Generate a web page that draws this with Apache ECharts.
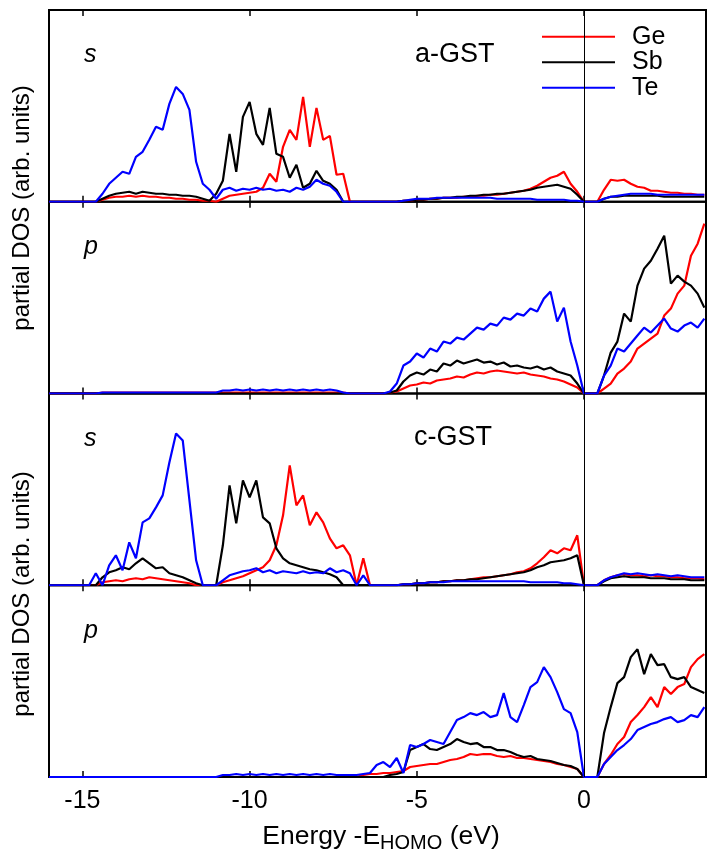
<!DOCTYPE html>
<html>
<head>
<meta charset="utf-8">
<script src="https://cdn.jsdelivr.net/npm/echarts@6/dist/echarts.min.js"></script>
<style>
  html, body { margin: 0; padding: 0; background: #fff; }
  #main { width: 709px; height: 856px; }
</style>
</head>
<body>
<div id="main"></div>
<script>
// energy grid (eV, relative to E_HOMO)
var energy = [
  -16.0, -15.8, -15.6, -15.4, -15.2, -15.0, -14.8, -14.6, -14.4, -14.2,
  -14.0, -13.8, -13.6, -13.4, -13.2, -13.0, -12.8, -12.6, -12.4, -12.2,
  -12.0, -11.8, -11.6, -11.4, -11.2, -11.0, -10.8, -10.6, -10.4, -10.2,
  -10.0, -9.8, -9.6, -9.4, -9.2, -9.0, -8.8, -8.6, -8.4, -8.2,
  -8.0, -7.8, -7.6, -7.4, -7.2, -7.0, -6.8, -6.6, -6.4, -6.2,
  -6.0, -5.8, -5.6, -5.4, -5.2, -5.0, -4.8, -4.6, -4.4, -4.2,
  -4.0, -3.8, -3.6, -3.4, -3.2, -3.0, -2.8, -2.6, -2.4, -2.2,
  -2.0, -1.8, -1.6, -1.4, -1.2, -1.0, -0.8, -0.6, -0.4, -0.2,
  0.0, 0.2, 0.4, 0.6, 0.8, 1.0, 1.2, 1.4, 1.6, 1.8,
  2.0, 2.2, 2.4, 2.6, 2.8, 3.0, 3.2, 3.4, 3.6
];
var xTicks = [-15, -10, -5, 0];

// a-GST, s states
var geSA = [0,0,0,0,0, 0,0,0,2,4, 5,5,6,5,6, 5,5,4,4,3, 3,2,2,1,1, 0,3,6,7,8,
  9,10,14,28,20, 55,72,62,105,55, 94,62,66,27,28, 0,0,0,0,0, 0,0,0,1,1, 2,2,3,3,4,
  4,4,5,5,6, 6,7,7,8,9, 10,11,13,16,20, 24,26,30,18,10, 0,0,0,12,22, 21,22,18,15,14,
  11,11,10,9,9, 8,8,7,7];
var sbSA = [0,0,0,0,0, 0,0,0,3,6, 8,9,10,8,10, 9,8,8,7,7, 6,6,5,3,1, 8,21,68,30,85,
  100,68,57,94,48, 45,24,37,14,18, 31,21,18,12,0, 0,0,0,0,0, 0,0,0,1,1, 2,2,3,3,4,
  4,5,5,6,6, 7,7,8,8,9, 10,11,12,14,15, 16,17,15,13,7, 0,0,0,3,5, 5,6,6,6,6,
  6,6,5,5,5, 5,5,5,5];
var teSA = [0,0,0,0,0, 0,0,0,8,18, 24,30,28,45,50, 62,75,72,98,115, 108,92,40,18,12, 3,12,14,11,13,
  12,14,12,13,11, 12,10,14,12,15, 22,18,16,10,0, 0,0,0,0,0, 0,0,0,1,2, 3,3,3,4,4,
  4,4,4,4,4, 4,4,3,3,3, 3,3,3,2,2, 2,2,2,1,1, 0,0,0,3,5, 6,7,8,8,8,
  8,7,7,7,7, 7,7,7,7];

// a-GST, p states
var gePA = [0,0,0,0,0, 0,0,0,1,1, 1,1,1,1,1, 1,1,1,1,1, 1,1,1,1,1, 1,1,1,1,1,
  1,1,1,1,1, 1,1,1,1,1, 1,1,1,1,1, 0,0,0,0,0, 0,1,2,5,8, 9,11,10,13,14,
  15,17,16,19,21, 20,22,23,22,21, 20,21,19,18,17, 15,14,12,9,6, 0,0,0,5,10, 20,25,32,45,50,
  55,60,78,85,100, 108,138,150,170];
var sbPA = [0,0,0,0,0, 0,0,0,0,0, 0,0,0,0,0, 0,0,0,0,0, 0,0,0,0,0, 0,0,0,0,0,
  0,0,0,0,0, 0,0,0,0,0, 0,0,0,0,0, 0,0,0,0,0, 0,1,3,12,18, 21,19,24,22,30,
  28,33,30,32,34, 31,32,29,31,27, 28,26,25,27,24, 26,22,20,18,10, 0,0,0,18,41, 52,80,72,108,125,
  133,145,158,110,118, 112,108,100,86];
var tePA = [0,0,0,0,0, 0,0,0,1,1, 1,1,1,1,1, 1,1,1,1,1, 1,1,1,1,1, 1,3,3,4,3,
  4,3,4,3,4, 3,4,3,4,3, 4,3,4,3,1, 0,0,0,0,0, 0,2,10,28,32, 40,36,45,42,52,
  50,56,54,60,66, 64,70,68,76,74, 80,78,85,82,95, 102,72,86,52,28, 0,0,0,18,28, 45,42,50,58,66,
  61,68,75,65,62, 68,71,66,75];

// c-GST, s states
var geSC = [0,0,0,0,0, 0,0,0,3,4, 5,4,6,7,6, 8,7,6,5,4, 3,2,0,0,0, 0,3,5,7,9,
  12,15,18,25,40, 70,120,80,90,60, 73,63,47,37,40, 30,0,27,0,0, 0,0,0,1,1, 2,2,3,3,4,
  4,5,5,6,7, 8,8,9,10,11, 13,14,17,22,28, 35,32,37,35,50, 0,0,0,5,8, 10,11,10,10,9,
  10,9,9,8,8, 7,7,7,6];
var sbSC = [0,0,0,0,0, 0,0,0,8,13, 15,18,16,22,27, 22,17,18,12,10, 8,5,2,0,0, 0,40,100,62,105,
  88,105,68,62,37, 27,22,20,18,16, 15,13,11,8,0, 0,0,0,0,0, 0,0,0,1,1, 2,2,3,3,4,
  4,5,5,6,6, 7,8,9,10,11, 12,13,15,18,20, 23,24,25,27,30, 0,0,0,4,7, 8,9,8,8,8,
  7,7,7,6,6, 6,5,5,5];
var teSC = [0,0,0,0,0, 0,0,12,0,20, 30,15,43,27,63, 67,78,90,123,152, 145,85,25,0,0, 0,5,10,12,14,
  15,17,13,15,12, 14,13,12,14,12, 13,12,17,13,15, 12,0,10,0,0, 0,0,0,1,1, 2,2,3,3,3,
  4,4,4,4,4, 4,4,4,4,4, 4,4,3,3,3, 3,3,2,2,1, 0,0,0,5,8, 10,12,11,12,11,
  10,11,10,9,10, 9,8,8,8];

// c-GST, p states
var gePC = [0,0,0,0,0, 0,0,0,0,0, 0,0,0,0,0, 0,0,0,0,0, 0,0,0,0,0, 0,0,0,0,0,
  0,0,0,0,0, 0,0,0,0,0, 0,0,0,0,0, 0,0,2,3,3, 4,4,5,6,10, 11,12,13,13,15,
  17,18,20,23,22, 23,23,21,20,21, 19,19,18,17,16, 15,13,12,10,8, 0,0,0,13,22, 33,40,55,62,70,
  80,70,90,83,90, 93,110,118,123];
var sbPC = [0,0,0,0,0, 0,0,0,0,0, 0,0,0,0,0, 0,0,0,0,0, 0,0,0,0,0, 0,0,0,0,0,
  0,0,0,0,0, 0,0,0,0,0, 0,0,0,0,0, 0,0,0,0,0, 0,2,3,5,27, 30,33,28,27,30,
  33,38,35,33,34, 30,30,27,27,25, 22,20,21,18,17, 16,14,12,11,8, 0,0,0,44,70, 94,100,120,128,103,
  123,112,113,100,98, 100,90,87,84];
var tePC = [0,0,0,0,0, 0,0,0,0,0, 0,0,0,0,0, 0,0,0,0,0, 0,0,0,0,0, 0,2,2,3,2,
  3,2,3,2,3, 2,3,2,3,2, 3,2,3,2,2, 2,2,3,4,12, 15,10,19,4,32, 30,33,37,35,33,
  45,57,60,64,62, 65,60,62,84,60, 55,72,90,95,110, 100,85,68,64,45, 0,0,0,13,20, 27,32,38,47,50,
  53,55,58,60,55, 57,62,60,70];

var panels = [
  { ge: geSA, sb: sbSA, te: teSA, orb: 's' },
  { ge: gePA, sb: sbPA, te: tePA, orb: 'p' },
  { ge: geSC, sb: sbSC, te: teSC, orb: 's' },
  { ge: gePC, sb: sbPC, te: tePC, orb: 'p' }
];

var FONT = "'Liberation Sans', Arial, Helvetica, sans-serif";
var gridTop = [10, 201.75, 393.5, 585.25];
var gridH = 191.75;
var xMin = -16, xMax = 3.65;

function pairs(vals) {
  return energy.map(function (e, i) { return [e, vals[i]]; });
}

var chart = echarts.init(document.getElementById('main'));

var grids = [], xAxes = [], yAxes = [], series = [], graphics = [];

panels.forEach(function (p, k) {
  grids.push({
    left: 49, width: 657, top: gridTop[k], height: gridH,
    show: true, borderColor: '#000', borderWidth: 2, backgroundColor: 'transparent'
  });
  ['bottom', 'top'].forEach(function (pos) {
    xAxes.push({
      type: 'value', gridIndex: k, position: pos, min: xMin, max: xMax,
      axisLine: { show: false },
      splitLine: { show: false },
      axisTick: {
        show: true, inside: true, length: 6, customValues: xTicks,
        lineStyle: { color: '#000', width: 1.5 }
      },
      axisLabel: {
        show: (k === 3 && pos === 'bottom'), customValues: xTicks,
        color: '#000', fontSize: 25, fontFamily: FONT, margin: 12
      }
    });
  });
  yAxes.push({ type: 'value', gridIndex: k, min: 0, max: 192, show: false });

  var cols = [['Ge', p.ge, '#ff0000'], ['Sb', p.sb, '#000000'], ['Te', p.te, '#0000ff']];
  cols.forEach(function (c, j) {
    var s = {
      name: c[0], type: 'line', xAxisIndex: 2 * k, yAxisIndex: k,
      data: pairs(c[1]), symbol: 'none', showSymbol: false,
      lineStyle: { color: c[2], width: 2.2 }, itemStyle: { color: c[2] },
      z: 2 + j
    };
    if (j === 2) {
      s.markLine = {
        silent: true, symbol: ['none', 'none'], label: { show: false },
        lineStyle: { color: '#000', width: 1, type: 'solid' },
        data: [{ xAxis: 0 }]
      };
    }
    series.push(s);
  });

  graphics.push({
    type: 'text', x: 84, y: gridTop[k] + 58,
    style: { text: p.orb, fontSize: 25, fontStyle: 'italic', fontFamily: FONT,
             fill: '#000', verticalAlign: 'bottom' }
  });
});

graphics.push({
  type: 'text', x: 415, y: gridTop[0] + 58,
  style: { text: 'a-GST', fontSize: 27, fontFamily: FONT, fill: '#000', verticalAlign: 'bottom' }
});
graphics.push({
  type: 'text', x: 414, y: gridTop[2] + 58,
  style: { text: 'c-GST', fontSize: 27, fontFamily: FONT, fill: '#000', verticalAlign: 'bottom' }
});
[208, 594].forEach(function (cy) {
  graphics.push({
    type: 'text', x: 22, y: cy, rotation: Math.PI / 2,
    style: { text: 'partial DOS (arb. units)', fontSize: 24, fontFamily: FONT, fill: '#000',
             align: 'center', verticalAlign: 'middle' }
  });
});
graphics.push({
  type: 'text', x: 381, y: 837,
  style: {
    text: 'Energy -E{sub|HOMO} (eV)', fontSize: 26.5, fontFamily: FONT, fill: '#000',
    lineHeight: 32, align: 'center', verticalAlign: 'middle',
    rich: { sub: { fontSize: 20, fontFamily: FONT, lineHeight: 20, verticalAlign: 'bottom' } }
  }
});

var option = {
  backgroundColor: '#fff',
  animation: false,
  legend: {
    data: ['Ge', 'Sb', 'Te'], orient: 'vertical', left: 542, top: 24, padding: 0,
    icon: 'rect', itemWidth: 73, itemHeight: 2, itemGap: 0,
    selectedMode: false,
    textStyle: { fontSize: 25, fontFamily: FONT, color: '#000', lineHeight: 25.5,
                 padding: [0, 0, 0, 12] }
  },
  grid: grids,
  xAxis: xAxes,
  yAxis: yAxes,
  series: series,
  graphic: graphics
};

chart.setOption(option);
</script>
</body>
</html>
